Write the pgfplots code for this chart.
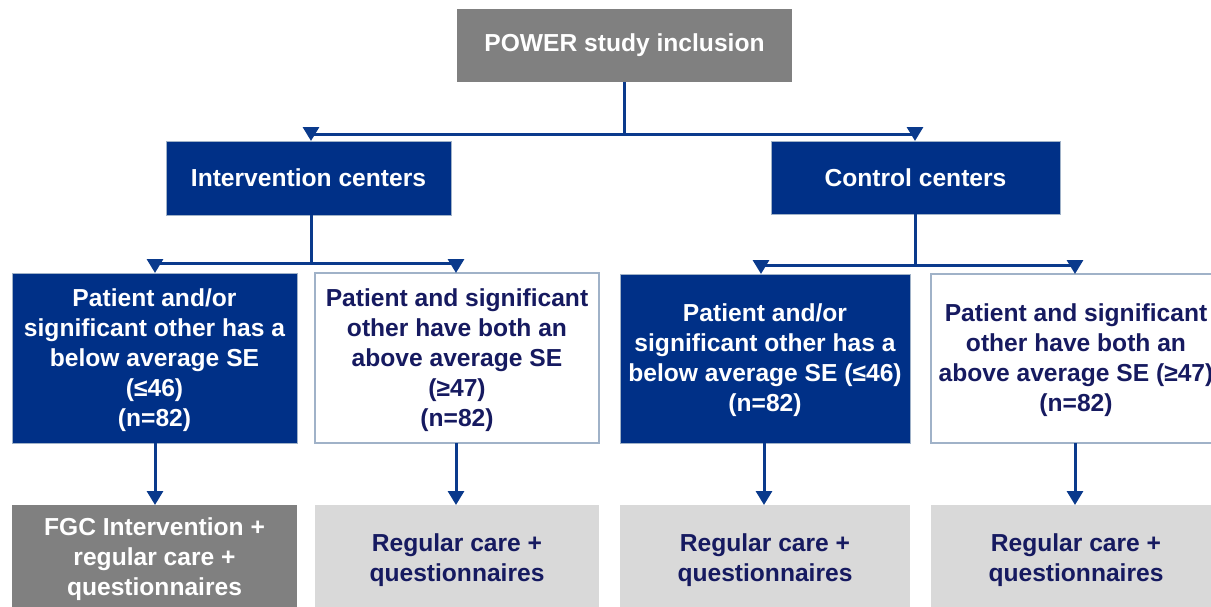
\documentclass[border=0pt]{standalone}
\usepackage{pgfplots}
\pgfplotsset{compat=1.18}
\usepackage{fontspec}
\setmainfont{Liberation Sans}
\usetikzlibrary{arrows.meta}
\definecolor{pblue}{RGB}{0,48,135}
\definecolor{lblue}{RGB}{10,58,140}
\definecolor{dgray}{RGB}{128,128,128}
\definecolor{lgray}{RGB}{217,217,217}
\definecolor{navy}{RGB}{22,26,96}
\definecolor{bord}{RGB}{160,178,200}
\begin{document}
\begin{tikzpicture}
\begin{axis}[
  scale only axis, width=605.5pt, height=303pt,
  xmin=0, xmax=1211, ymin=0, ymax=606, y dir=reverse,
  axis lines=none, clip=true,
]
% boxes: x1 y1 x2 y2
\fill[dgray] (axis cs:457,9) rectangle (axis cs:792,82);
\filldraw[fill=pblue, draw=bord, line width=0.4pt] (axis cs:166,141) rectangle (axis cs:451,215);
\filldraw[fill=pblue, draw=bord, line width=0.4pt] (axis cs:771,141) rectangle (axis cs:1060,214);
\filldraw[fill=pblue, draw=bord, line width=0.4pt] (axis cs:12,273) rectangle (axis cs:297,443);
\filldraw[fill=white, draw=bord, line width=0.6pt] (axis cs:315,273) rectangle (axis cs:599,443);
\filldraw[fill=pblue, draw=bord, line width=0.4pt] (axis cs:620,274) rectangle (axis cs:910,443);
\filldraw[fill=white, draw=bord, line width=0.6pt] (axis cs:931,274) rectangle (axis cs:1225,443);
\fill[dgray] (axis cs:12,505) rectangle (axis cs:297,620);
\fill[lgray] (axis cs:315,505) rectangle (axis cs:599,620);
\fill[lgray] (axis cs:620,505) rectangle (axis cs:910,620);
\fill[lgray] (axis cs:931,505) rectangle (axis cs:1225,620);
% connectors
\tikzset{arr/.style={-{Triangle[width=8pt,length=7pt]}}}
\begin{scope}[draw=lblue, line width=1.5pt]
\draw (axis cs:624,82) -- (axis cs:624,134);
\draw (axis cs:311,134) -- (axis cs:915,134);
\draw[arr] (axis cs:311,133) -- (axis cs:311,141);
\draw[arr] (axis cs:915,133) -- (axis cs:915,141);
\draw (axis cs:311,215) -- (axis cs:311,263);
\draw (axis cs:155,263) -- (axis cs:456,263);
\draw[arr] (axis cs:155,262) -- (axis cs:155,273);
\draw[arr] (axis cs:456,262) -- (axis cs:456,273);
\draw (axis cs:915,214) -- (axis cs:915,265);
\draw (axis cs:761,265) -- (axis cs:1075,265);
\draw[arr] (axis cs:761,264) -- (axis cs:761,274);
\draw[arr] (axis cs:1075,264) -- (axis cs:1075,274);
\draw[arr] (axis cs:155,443) -- (axis cs:155,505);
\draw[arr] (axis cs:456,443) -- (axis cs:456,505);
\draw[arr] (axis cs:764,443) -- (axis cs:764,505);
\draw[arr] (axis cs:1075,443) -- (axis cs:1075,505);
\end{scope}
% texts
\tikzset{lab/.style={align=center, inner sep=0pt, font=\fontsize{12.3}{15}\selectfont\bfseries}}
\node[lab, text=white] at (axis cs:624.5,45) {POWER study inclusion};
\node[lab, text=white] at (axis cs:308.5,178) {Intervention centers};
\node[lab, text=white] at (axis cs:915.5,178) {Control centers};
\node[lab, text=white] at (axis cs:154.5,360) {Patient and/or\\significant other has a\\below average SE\\(≤46)\\(n=82)};
\node[lab, text=navy] at (axis cs:457,360) {Patient and significant\\other have both an\\above average SE\\(≥47)\\(n=82)};
\node[lab, text=white] at (axis cs:765,360) {Patient and/or\\significant other has a\\below average SE (≤46)\\(n=82)};
\node[lab, text=navy] at (axis cs:1076,360) {Patient and significant\\other have both an\\above average SE (≥47)\\(n=82)};
\node[lab, text=white] at (axis cs:154.5,559) {FGC Intervention +\\regular care +\\questionnaires};
\node[lab, text=navy] at (axis cs:457,560) {Regular care +\\questionnaires};
\node[lab, text=navy] at (axis cs:765,560) {Regular care +\\questionnaires};
\node[lab, text=navy] at (axis cs:1076,560) {Regular care +\\questionnaires};
\end{axis}
\pgfresetboundingbox
\useasboundingbox (current axis.south west) rectangle (current axis.north east);
\end{tikzpicture}
\end{document}
